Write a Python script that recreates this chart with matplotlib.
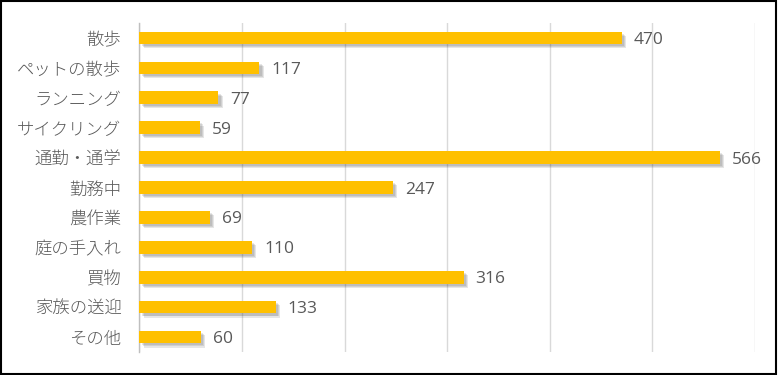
import matplotlib.pyplot as plt
import matplotlib.patheffects as pe
from matplotlib.patches import Rectangle

plt.rcParams['font.family'] = ['Noto Sans CJK JP', 'DejaVu Sans']

# data, top to bottom as in the chart
labels = ['散歩', 'ペットの散歩', 'ランニング', 'サイクリング', '通勤・通学',
          '勤務中', '農作業', '庭の手入れ', '買物', '家族の送迎', 'その他']
values = [470, 117, 77, 59, 566, 247, 69, 110, 316, 133, 60]

grey = '#595959'

fig = plt.figure(figsize=(7.78, 3.75), dpi=100)
ax = fig.add_axes([0.1793, 0.0613, 0.791, 0.8774])

ypos = list(range(len(labels)))
bars = ax.barh(ypos, values, height=0.42, color='#FFC000', zorder=3)
# soft drop shadow, lower right
shadow = [pe.SimplePatchShadow(offset=(d, -d), shadow_rgbFace='#404040', alpha=0.13)
          for d in (3, 2.2, 1.5)]
for b in bars:
    b.set_path_effects(shadow + [pe.Normal()])

for y, v in zip(ypos, values):
    ax.annotate(str(v), (v, y), xytext=(8.5, -1.5), textcoords='offset points',
                va='center', ha='left', fontsize=12.5, color=grey,
                family=['Open Sans', 'DejaVu Sans'])

ax.set_yticks(ypos)
ax.set_yticklabels(labels, fontweight='light')
ax.set_ylim(len(labels) - 0.5, -0.5)
ax.set_xlim(0, 600)
ax.set_xticks(range(0, 601, 100))
ax.tick_params(axis='x', length=0, labelbottom=False)
ax.tick_params(axis='y', length=0, pad=13, labelsize=12.5, labelcolor=grey)
ax.grid(axis='x', color='#d9d9d9', linewidth=1, zorder=0)
for s in ['top', 'right', 'bottom']:
    ax.spines[s].set_visible(False)
ax.spines['left'].set_color('#bfbfbf')
ax.spines['left'].set_linewidth(1)

# frame around the whole picture
fig.patches.append(Rectangle((0.001, 0.002), 0.997, 0.995, transform=fig.transFigure,
                             fill=False, edgecolor='black', linewidth=1.5))

fig.savefig('out.png', dpi=100)
